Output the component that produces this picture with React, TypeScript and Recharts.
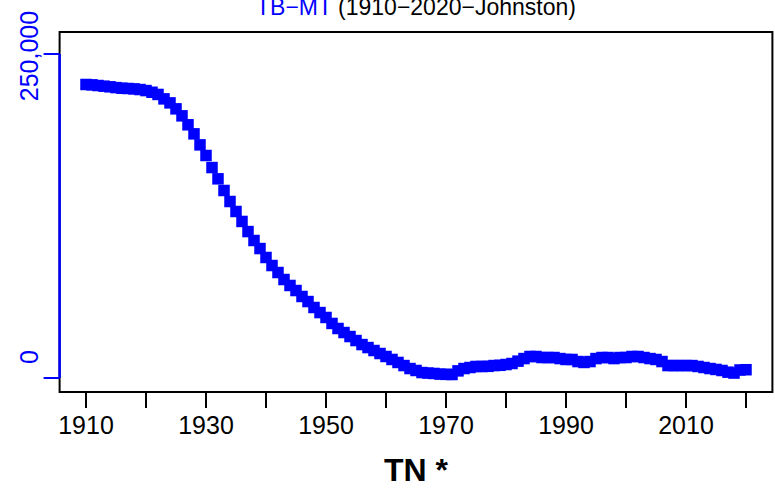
import React from 'react';
import {
  ScatterChart,
  Scatter,
  XAxis,
  YAxis,
  ReferenceArea,
  ReferenceLine,
} from 'recharts';

const years: number[] = [
  1910, 1911, 1912, 1913, 1914, 1915, 1916, 1917, 1918, 1919,
  1920, 1921, 1922, 1923, 1924, 1925, 1926, 1927, 1928, 1929,
  1930, 1931, 1932, 1933, 1934, 1935, 1936, 1937, 1938, 1939,
  1940, 1941, 1942, 1943, 1944, 1945, 1946, 1947, 1948, 1949,
  1950, 1951, 1952, 1953, 1954, 1955, 1956, 1957, 1958, 1959,
  1960, 1961, 1962, 1963, 1964, 1965, 1966, 1967, 1968, 1969,
  1970, 1971, 1972, 1973, 1974, 1975, 1976, 1977, 1978, 1979,
  1980, 1981, 1982, 1983, 1984, 1985, 1986, 1987, 1988, 1989,
  1990, 1991, 1992, 1993, 1994, 1995, 1996, 1997, 1998, 1999,
  2000, 2001, 2002, 2003, 2004, 2005, 2006, 2007, 2008, 2009,
  2010, 2011, 2012, 2013, 2014, 2015, 2016, 2017, 2018, 2019,
  2020,
];

const values: number[] = [
  226500, 226200, 225700, 225200, 224700, 224100, 223600, 223400, 223100, 222600,
  221800, 220500, 218800, 215400, 212300, 207700, 202300, 195400, 188400, 179900,
  171700, 162400, 153700, 144700, 136200, 128500, 120800, 113000, 106100, 99900,
  93000, 86800, 81400, 76000, 71400, 67500, 62900, 59000, 54400, 50500,
  46700, 42100, 38200, 35100, 32000, 28900, 25800, 23500, 21200, 18900,
  16600, 14300, 12000, 9600, 7300, 5800, 4200, 3800, 3500, 3000,
  2800, 2700, 5500, 7300, 8100, 8900, 8900, 9000, 9600, 9800,
  10400, 11200, 13000, 15000, 16600, 16600, 15800, 15800, 15800, 15000,
  14300, 14300, 12700, 12000, 12700, 15000, 15800, 15800, 15000, 15800,
  15800, 16600, 16600, 15800, 15000, 14300, 12700, 9600, 9600, 9600,
  9600, 9600, 8900, 8100, 7300, 6600, 5800, 4500, 3800, 6200,
  6400,
];

const xTicks: number[] = [1910, 1920, 1930, 1940, 1950, 1960, 1970, 1980, 1990, 2000, 2010, 2020];
const xTickLabels: string[] = ['1910', '', '1930', '', '1950', '', '1970', '', '1990', '', '2010', ''];
const yTicks: number[] = [0, 250000];
const yTickLabels: string[] = ['0', '250,000'];

const X_DOMAIN: [number, number] = [1905.6, 2024.4];
const Y_DOMAIN: [number, number] = [-10800, 267000];

const data = years.map((year, i) => ({ year, value: values[i] }));

const BLUE = '#0000FF';
const FONT = '"Liberation Sans", Arial, Helvetica, sans-serif';

const SquareShape = (props: any) => {
  const { cx, cy } = props;
  if (cx == null || cy == null) return null;
  return <rect x={cx - 5.75} y={cy - 5.75} width={11.5} height={11.5} fill={BLUE} />;
};

const XTick = (props: any) => {
  const { x, payload } = props;
  const idx = xTicks.indexOf(payload.value);
  const label = idx >= 0 ? xTickLabels[idx] : '';
  if (!label) return null;
  return (
    <text x={x} y={434} textAnchor="middle" fontSize={25} fontFamily={FONT} fill="#000">
      {label}
    </text>
  );
};

const YTick = (props: any) => {
  const { y, payload } = props;
  const idx = yTicks.indexOf(payload.value);
  const label = idx >= 0 ? yTickLabels[idx] : '';
  const ty = payload.value === 0 ? y - 21 : y + 2;
  const tx = 38;
  return (
    <text
      x={tx}
      y={ty}
      transform={`rotate(-90, ${tx}, ${ty})`}
      textAnchor="middle"
      fontSize={25}
      fontFamily={FONT}
      fill={BLUE}
    >
      {label}
    </text>
  );
};

const XLabel = (props: any) => {
  const { viewBox } = props;
  const cx = viewBox.x + viewBox.width / 2;
  return (
    <text x={cx} y={481} textAnchor="middle" fontSize={32} fontWeight="bold" fontFamily={FONT} fill="#000">
      TN *
    </text>
  );
};

export default function App() {
  return (
    <div style={{ position: 'absolute', left: 0, top: 0, width: 775, height: 489, background: '#fff' }}>
      <ScatterChart
        width={775}
        height={489}
        margin={{ top: 32, right: 2.6, bottom: 0, left: 0 }}
      >
        <XAxis
          type="number"
          dataKey="year"
          domain={X_DOMAIN}
          ticks={xTicks}
          interval={0}
          allowDataOverflow
          height={97}
          tickSize={16}
          axisLine={false}
          tickLine={{ stroke: '#000', strokeWidth: 2 }}
          tick={<XTick />}
          label={<XLabel />}
        />
        <YAxis
          type="number"
          dataKey="value"
          domain={Y_DOMAIN}
          ticks={yTicks}
          interval={0}
          allowDataOverflow
          width={59.6}
          tickSize={16}
          axisLine={false}
          tickLine={{ stroke: BLUE, strokeWidth: 2 }}
          tick={<YTick />}
        />
        <ReferenceArea
          x1={X_DOMAIN[0]}
          x2={X_DOMAIN[1]}
          y1={Y_DOMAIN[0]}
          y2={Y_DOMAIN[1]}
          fill="none"
          fillOpacity={0}
          stroke="#000"
          strokeWidth={2}
          ifOverflow="visible"
        />
        <ReferenceLine
          segment={[
            { x: X_DOMAIN[0], y: yTicks[0] },
            { x: X_DOMAIN[0], y: yTicks[1] },
          ]}
          stroke={BLUE}
          strokeWidth={2.5}
          ifOverflow="visible"
        />
        <Scatter data={data} dataKey="value" shape={SquareShape} fill={BLUE} isAnimationActive={false} />
      </ScatterChart>
      <svg
        width={775}
        height={40}
        style={{ position: 'absolute', left: 0, top: 0, pointerEvents: 'none' }}
      >
        <text x={416} y={15} textAnchor="middle" fontSize={23} fontFamily={FONT}>
          <tspan fill={BLUE}>TB−MT</tspan>
          <tspan fill="#000"> (1910−2020−Johnston)</tspan>
        </text>
      </svg>
    </div>
  );
}
